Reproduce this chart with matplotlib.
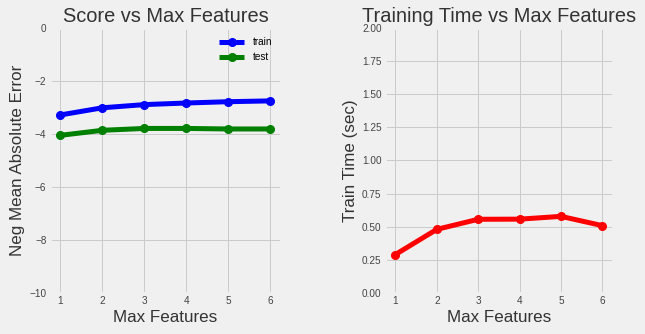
import matplotlib
matplotlib.use("Agg")
import matplotlib.pyplot as plt

max_features = [1, 2, 3, 4, 5, 6]
train_score = [-3.28, -3.01, -2.89, -2.83, -2.78, -2.75]
test_score = [-4.05, -3.86, -3.79, -3.79, -3.81, -3.81]
train_time = [0.29, 0.48, 0.556, 0.557, 0.578, 0.508]

plt.style.use("fivethirtyeight")
plt.rcParams["font.family"] = ["Liberation Sans", "DejaVu Sans"]

fig = plt.figure(figsize=(645 / 72, 334 / 72), dpi=72)
ax1 = fig.add_axes([0.0775, 0.123, 0.358, 0.793])
ax2 = fig.add_axes([0.597, 0.123, 0.353, 0.793])

ax1.plot(max_features, train_score, "bo-", label="train", lw=5, ms=8)
ax1.plot(max_features, test_score, "go-", label="test", lw=5, ms=8)
ax1.set_ylim(-10, 0)
ax1.set_title("Score vs Max Features", fontsize=20, color="#333333")
ax1.set_xlabel("Max Features", fontsize=17, color="#333333")
ax1.set_ylabel("Neg Mean Absolute Error", fontsize=17, color="#333333")
ax1.legend(loc="upper right", fontsize=10, frameon=False, handlelength=2.5)

ax2.plot(max_features, train_time, "ro-", lw=5, ms=8)
ax2.set_ylim(0, 2)
ax2.set_title("Training Time vs Max Features", fontsize=20, color="#333333")
ax2.set_xlabel("Max Features", fontsize=17, color="#333333")
ax2.set_ylabel("Train Time (sec)", fontsize=17, color="#333333")

for ax in (ax1, ax2):
    ax.set_xticks(max_features)
    ax.tick_params(labelsize=10, colors="#444444")

fig.savefig("out.png", dpi=72)
